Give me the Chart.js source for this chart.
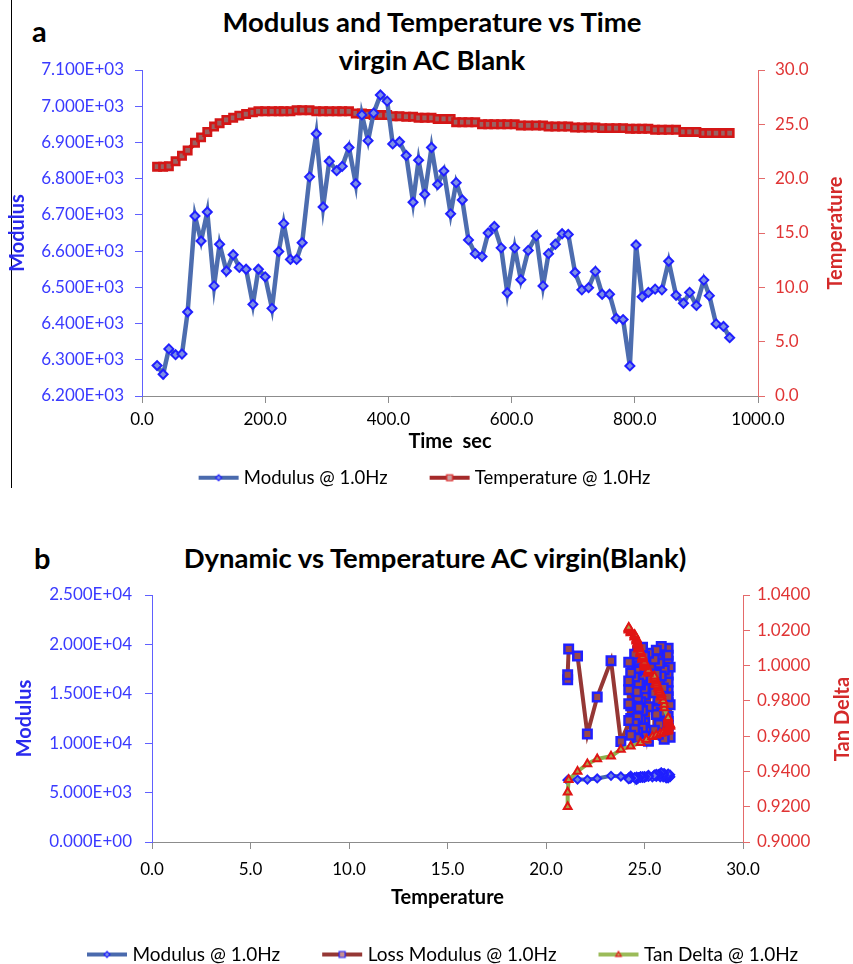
<!DOCTYPE html>
<html>
<head>
<meta charset="utf-8">
<script src="https://cdn.jsdelivr.net/npm/chart.js@4/dist/chart.umd.min.js"></script>
<style>
  html,body{margin:0;padding:0;background:#fff;}
  body{width:853px;height:964px;overflow:hidden;position:relative;font-family:Lato,"Open Sans",sans-serif;}
  .ttl{position:absolute;left:0;text-align:center;font-weight:bold;font-size:27.5px;line-height:34px;color:#000;white-space:nowrap;}
  .lbl{position:absolute;font-weight:bold;font-size:29px;line-height:29px;color:#000;}
  canvas{position:absolute;left:0;}
</style>
</head>
<body>
<div style="position:absolute;left:11px;top:0;width:1px;height:488px;background:#000"></div>
<div class="lbl" style="left:32px;top:16px">a</div>
<div class="ttl" style="top:5px;width:864px">Modulus and Temperature vs Time</div>
<div class="ttl" style="top:43px;width:864px">virgin AC Blank</div>
<canvas id="ca" width="853" height="500" style="top:0"></canvas>
<div class="lbl" style="left:34px;top:543px">b</div>
<div class="ttl" style="top:541px;width:870px">Dynamic vs Temperature AC virgin(Blank)</div>
<canvas id="cb" width="853" height="450" style="top:530px"></canvas>
<script>
// ---------- data ----------
const timeSec = [24.5,34.3,43.6,54.5,64.9,74.1,86,95.9,106,117,
  126,137,148,158,169,180,189,200,211,222,
  230,241,251,260,272,283,294,304,316,325,
  336,347,357,367,376,387,398,407,418,429,
  440,449,459,470,480,490,501,510,520,530,
  541,552,562,572,583,593,605,615,627,640,
  651,660,671,682,692,703,714,725,736,747,
  759,770,781,792,802,812,822,833,844,855,
  867,879,889,900,912,921,932,944,954];
const modulus = [6284,6260,6330,6314,6316,6432,6697,6628,6708,6504,
  6619,6545,6590,6555,6550,6453,6550,6529,6442,6599,
  6676,6577,6577,6623,6805,6924,6722,6848,6822,6834,
  6886,6786,6976,6905,6981,7031,7014,6896,6902,6864,
  6735,6851,6757,6886,6784,6821,6703,6789,6741,6631,
  6593,6585,6650,6668,6609,6485,6609,6521,6602,6642,
  6504,6593,6619,6648,6646,6541,6493,6499,6544,6481,
  6481,6414,6411,6283,6617,6474,6486,6495,6493,6572,
  6478,6456,6486,6450,6520,6477,6399,6392,6361];
const temperature = [21.1,21.1,21.15,21.6,22.1,22.6,23.3,23.8,24.3,24.8,
  25.1,25.4,25.6,25.8,25.95,26.1,26.2,26.2,26.2,26.2,
  26.2,26.2,26.3,26.3,26.3,26.2,26.2,26.2,26.2,26.2,
  26.2,26.0,26.0,25.95,25.85,25.85,25.85,25.75,25.75,25.7,
  25.7,25.6,25.6,25.6,25.5,25.5,25.5,25.2,25.2,25.2,
  25.2,25.0,25.0,25.0,25.0,25.0,25.0,24.9,24.9,24.9,
  24.9,24.8,24.8,24.8,24.8,24.7,24.7,24.7,24.7,24.65,
  24.65,24.65,24.65,24.6,24.6,24.6,24.6,24.5,24.5,24.5,
  24.5,24.3,24.3,24.3,24.2,24.2,24.2,24.2,24.2];
const lossModulus = [16430,16937,19544,18834,10923,14675,18357,10172,12500,15800,
  11200,18600,13400,17200,10800,19200,14100,11800,16900,12700,
  18300,15300,10600,17700,13900,19600,11500,16200,14700,18900,
  12200,17400,10400,15600,19800,13100,16800,11900,18100,14400,
  10900,17000,12900,19400,15100,11300,18500,13700,16400,10200,
  19100,14900,12100,17900,15500,10700,18800,13300,16600,11600,
  19700,14200,12400,17600,15900,10300,18400,13600,16100,11100,
  19300,14600,12600,17300,10500,18700,15200,12000,16700,11400,
  19000,13800,17100,10800,15400,18200,12300,16300,14000];
const tanDelta = [0.9200,0.9282,0.9353,0.9400,0.9442,0.9471,0.9486,0.9524,0.9543,0.9562,
  0.9581,0.9597,0.9605,0.9614,0.9620,0.9625,0.9628,0.9632,0.9636,0.9640,
  0.9645,0.9650,0.9655,0.9660,0.9666,0.9672,0.9678,0.9684,0.9690,0.9697,
  0.9704,0.9760,0.9780,0.9800,0.9820,0.9830,0.9840,0.9850,0.9860,0.9870,
  0.9880,0.9890,0.9900,0.9910,0.9920,0.9930,0.9940,0.9955,0.9962,0.9968,
  0.9974,0.9990,0.9996,1.0002,1.0008,1.0014,1.0020,1.0035,1.0040,1.0046,
  1.0052,1.0065,1.0070,1.0075,1.0080,1.0092,1.0097,1.0102,1.0107,1.0115,
  1.0120,1.0125,1.0130,1.0138,1.0142,1.0147,1.0152,1.0160,1.0165,1.0170,
  1.0175,1.0185,1.0190,1.0195,1.0200,1.0204,1.0208,1.0212,1.0216];
const timeTicks = {min:0, max:1000, step:200};
const modulusTicksA = {min:6200, max:7100, step:100};
const tempTicksA = {min:0, max:30, step:5};
const tempTicksB = {min:0, max:30, step:5};
const modulusTicksB = {min:0, max:25000, step:5000};
const tanTicksB = {min:0.90, max:1.04, step:0.02};

// ---------- helpers ----------
const FF = 'Lato';
function sci(v){
  const s = Number(v).toExponential(3);
  const parts = s.split('e');
  const sign = parts[1][0];
  const d = parts[1].slice(1).padStart(2,'0');
  return parts[0] + 'E' + sign + d;
}
function marker(g, style, x, y, r){
  g.beginPath();
  if (style === 'rectRot'){
    g.moveTo(x, y - r); g.lineTo(x + r, y); g.lineTo(x, y + r); g.lineTo(x - r, y); g.closePath();
  } else if (style === 'rect'){
    g.rect(x - r, y - r, 2*r, 2*r);
  } else {
    g.moveTo(x, y - r); g.lineTo(x + r*0.9, y + r*0.6); g.lineTo(x - r*0.9, y + r*0.6); g.closePath();
  }
  g.fill(); g.stroke();
}
function legendIcon(lineColor, style, bg, border){
  const c = document.createElement('canvas');
  c.width = 78; c.height = 14;
  const g = c.getContext('2d');
  g.strokeStyle = lineColor; g.lineWidth = 4;
  g.beginPath(); g.moveTo(37, 7); g.lineTo(77, 7); g.stroke();
  g.fillStyle = bg; g.strokeStyle = border; g.lineWidth = 1.2;
  marker(g, style, 57, 7, 3);
  return c;
}
function legendOpts(icons, size){
  return {
    position:'bottom',
    labels:{
      usePointStyle:true, pointStyleWidth:68, padding:10, color:'#000',
      font:{family:FF, size:size},
      generateLabels:(chart)=>chart.data.datasets.map((ds,i)=>({
        text: ds.label, pointStyle: icons[i], datasetIndex:i,
        fillStyle:'rgba(0,0,0,0)', strokeStyle:'rgba(0,0,0,0)', lineWidth:0, hidden:false, fontColor:'#000'
      }))
    }
  };
}
const rightTitle = {
  id:'rightTitle',
  afterDraw(chart, args, o){
    const ctx = chart.ctx;
    ctx.save();
    ctx.translate(o.x, o.y);
    ctx.rotate(-Math.PI/2);
    ctx.font = 'bold 20px ' + FF;
    ctx.fillStyle = o.color;
    ctx.textAlign = 'center';
    ctx.textBaseline = 'middle';
    ctx.fillText(o.text, 0, 0);
    ctx.restore();
  }
};
const tickFont = {family:FF, size:17};
const titleFont = {family:FF, size:20, weight:'bold'};
const BLUE_TXT = '#3a3aff', BLUE_AX = '#6060ff', RED_TXT = '#e03434', RED_AX = '#e46a6a', GREY = '#8c8c8c';

// ---------- chart a ----------
const iconsA = [
  legendIcon('#4a6aad','rectRot','#7d8fe6','#2020ff'),
  legendIcon('#a52a2a','rect','#c8a0a0','#e02020')
];
new Chart(document.getElementById('ca'), {
  type:'line',
  data:{ datasets:[
    { label:'Modulus @ 1.0Hz', data: timeSec.map((t,i)=>({x:t, y:modulus[i]})), yAxisID:'y',
      borderColor:'#4d6daf', borderWidth:4.5, tension:0,
      pointStyle:'rectRot', pointRadius:4.5, pointBorderColor:'#2020ff', pointBackgroundColor:'#7d8fe6', pointBorderWidth:2 },
    { label:'Temperature @ 1.0Hz', data: timeSec.map((t,i)=>({x:t, y:temperature[i]})), yAxisID:'y1',
      borderColor:'#c01c1c', borderWidth:5, tension:0,
      pointStyle:'rect', pointRadius:5.2, pointBorderColor:'#d41616', pointBackgroundColor:'#9a6262', pointBorderWidth:2.6 }
  ]},
  options:{
    responsive:false, animation:false, devicePixelRatio:1,
    layout:{padding:{top:70, bottom:3, left:0, right:36}},
    plugins:{
      legend: legendOpts(iconsA, 18.5),
      tooltip:{enabled:false},
      rightTitle:{text:'Temperature', x:836, y:233, color:'#d42a2a'}
    },
    scales:{
      x:{ type:'linear', min:timeTicks.min, max:timeTicks.max,
        ticks:{stepSize:timeTicks.step, callback:v=>Number(v).toFixed(1), color:'#000', font:tickFont, padding:6, maxRotation:0, autoSkip:false},
        grid:{drawOnChartArea:false, color:GREY, tickLength:7}, border:{color:GREY},
        title:{display:true, text:'Time  sec', color:'#000', font:titleFont, padding:{top:0, bottom:4.5}},
        afterFit:s=>{ s.height = 62.5; } },
      y:{ position:'left', min:modulusTicksA.min, max:modulusTicksA.max,
        ticks:{stepSize:modulusTicksA.step, callback:v=>sci(v), color:BLUE_TXT, font:tickFont, padding:11},
        grid:{drawOnChartArea:false, color:BLUE_AX, tickLength:7}, border:{color:BLUE_AX},
        title:{display:true, text:'Modulus', color:'#2a2aee', font:titleFont, padding:{top:6, bottom:0}},
        afterFit:s=>{ s.width = 142; } },
      y1:{ position:'right', min:tempTicksA.min, max:tempTicksA.max,
        ticks:{stepSize:tempTicksA.step, callback:v=>Number(v).toFixed(1), color:RED_TXT, font:tickFont, padding:10},
        grid:{drawOnChartArea:false, color:RED_AX, tickLength:7}, border:{color:RED_AX},
        afterFit:s=>{ s.width = 59; } }
    }
  },
  plugins:[rightTitle]
});

// ---------- chart b ----------
const iconsB = [
  legendIcon('#4a6aad','rectRot','#7d8fe6','#2020ff'),
  legendIcon('#953735','rect','#c89090','#2020ff'),
  legendIcon('#9bbb59','tri','#c0b060','#e01515')
];
new Chart(document.getElementById('cb'), {
  type:'line',
  data:{ datasets:[
    { label:'Modulus @ 1.0Hz', data: temperature.map((t,i)=>({x:t, y:modulus[i]})), yAxisID:'y', order:2,
      borderColor:'#4a6aad', borderWidth:4, tension:0,
      pointStyle:'rectRot', pointRadius:4, pointBorderColor:'#2020ff', pointBackgroundColor:'#6f80e0', pointBorderWidth:2 },
    { label:'Loss Modulus @ 1.0Hz', data: temperature.map((t,i)=>({x:t, y:lossModulus[i]})), yAxisID:'y', order:1,
      borderColor:'#953735', borderWidth:4, tension:0,
      pointStyle:'rect', pointRadius:6, pointBorderColor:'#2020ff', pointBackgroundColor:'#9a4848', pointBorderWidth:2.5 },
    { label:'Tan Delta @ 1.0Hz', data: temperature.map((t,i)=>({x:t, y:tanDelta[i]})), yAxisID:'y1', order:0,
      borderColor:'#8cb04c', borderWidth:4, tension:0,
      pointStyle:'triangle', pointRadius:4.5, pointBorderColor:'#e01515', pointBackgroundColor:'#b0a048', pointBorderWidth:2 }
  ]},
  options:{
    responsive:false, animation:false, devicePixelRatio:1,
    layout:{padding:{top:65, bottom:6, left:0, right:0}},
    plugins:{
      legend: legendOpts(iconsB, 19),
      tooltip:{enabled:false},
      rightTitle:{text:'Tan Delta', x:843, y:189, color:'#d42a2a'}
    },
    scales:{
      x:{ type:'linear', min:tempTicksB.min, max:tempTicksB.max,
        ticks:{stepSize:tempTicksB.step, callback:v=>Number(v).toFixed(1), color:'#000', font:tickFont, padding:10, maxRotation:0, autoSkip:false},
        grid:{drawOnChartArea:false, color:GREY, tickLength:7}, border:{color:GREY},
        title:{display:true, text:'Temperature', color:'#000', font:titleFont, padding:{top:0, bottom:25}},
        afterFit:s=>{ s.height = 93; } },
      y:{ position:'left', min:modulusTicksB.min, max:modulusTicksB.max,
        ticks:{stepSize:modulusTicksB.step, callback:v=>sci(v), color:BLUE_TXT, font:tickFont, padding:13},
        grid:{drawOnChartArea:false, color:BLUE_AX, tickLength:7}, border:{color:BLUE_AX},
        title:{display:true, text:'Modulus', color:'#2a2aee', font:titleFont, padding:{top:13, bottom:0}},
        afterFit:s=>{ s.width = 152; } },
      y1:{ position:'right', min:tanTicksB.min, max:tanTicksB.max,
        ticks:{stepSize:tanTicksB.step, callback:v=>Number(v).toFixed(4), color:RED_TXT, font:tickFont, padding:7},
        grid:{drawOnChartArea:false, color:RED_AX, tickLength:7}, border:{color:RED_AX},
        afterFit:s=>{ s.width = 110; } }
    }
  },
  plugins:[rightTitle]
});
</script>
</body>
</html>
